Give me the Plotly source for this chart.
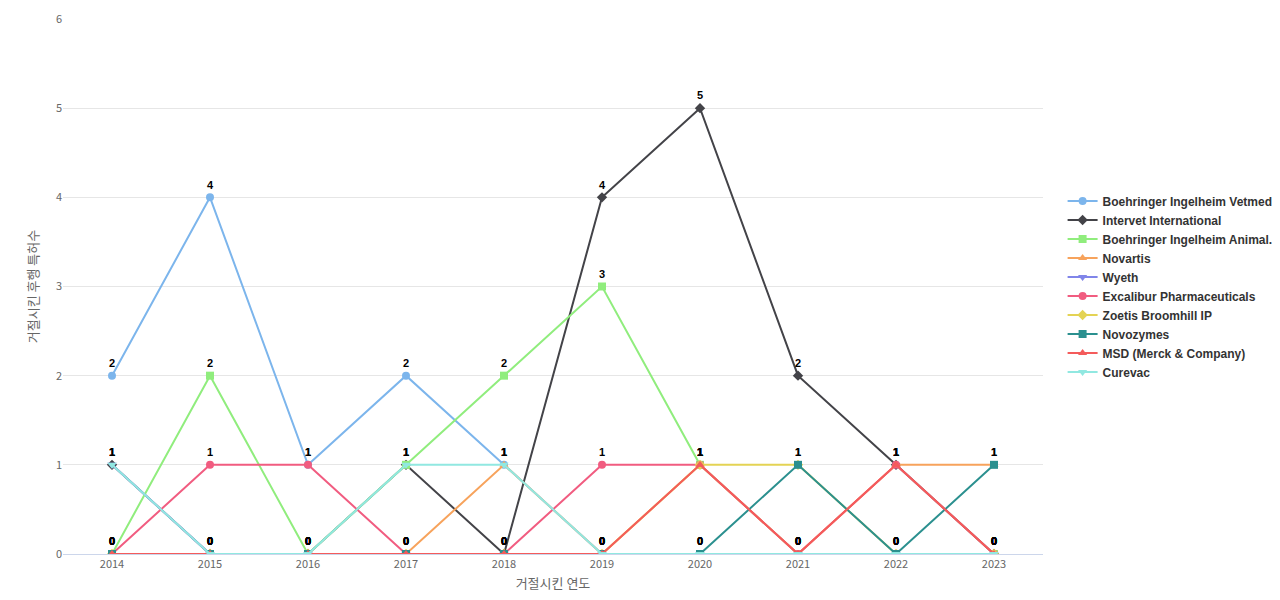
import plotly.graph_objects as go

years = [2014, 2015, 2016, 2017, 2018, 2019, 2020, 2021, 2022, 2023]
names = ["Boehringer Ingelheim Vetmedica", "Intervet International", "Boehringer Ingelheim Animal...",
         "Novartis", "Wyeth", "Excalibur Pharmaceuticals", "Zoetis Broomhill IP", "Novozymes",
         "MSD (Merck & Company)", "Curevac"]
bi_vet = [2, 4, 1, 2, 1, 0, 0, 0, 0, 0]
intervet = [1, 0, 0, 1, 0, 4, 5, 2, 1, 0]
bi_animal = [0, 2, 0, 1, 2, 3, 1, 0, 0, 0]
novartis = [0, 0, 0, 0, 1, 0, 1, 0, 1, 1]
wyeth = [1, 0, 0, 0, 0, 0, 0, 0, 0, 0]
excalibur = [0, 1, 1, 0, 0, 1, 1, 0, 1, 0]
zoetis = [0, 0, 0, 0, 0, 0, 1, 1, 0, 0]
novozymes = [0, 0, 0, 0, 0, 0, 0, 1, 0, 1]
msd = [0, 0, 0, 0, 0, 0, 1, 0, 1, 0]
curevac = [1, 0, 0, 1, 1, 0, 0, 0, 0, 0]
series = [bi_vet, intervet, bi_animal, novartis, wyeth, excalibur, zoetis, novozymes, msd, curevac]
colors = ["#7cb5ec", "#434348", "#90ed7d", "#f7a35c", "#8085e9", "#f15c80", "#e4d354", "#2b908f", "#f45b5b", "#91e8e1"]
symbols = ["circle", "diamond", "square", "triangle-up", "triangle-down", "circle", "diamond", "square", "triangle-up", "triangle-down"]

fig = go.Figure()
for n, s, c, m in zip(names, series, colors, symbols):
    fig.add_trace(go.Scatter(x=years, y=s, name=n, mode="lines+markers+text",
                             line=dict(color=c, width=2), marker=dict(color=c, symbol=m, size=8),
                             text=["<b>%d</b>" % v for v in s], textposition="top center",
                             textfont=dict(color="black", size=11, family="Liberation Sans")))
fig.update_layout(
    width=1280, height=600, plot_bgcolor="white", paper_bgcolor="white",
    margin=dict(l=55, r=245, t=11, b=54, autoexpand=False),
    font=dict(family="Noto Sans CJK KR, DejaVu Sans", color="#666", size=11),
    xaxis=dict(title=dict(text="거절시킨 연도", standoff=8), tickmode="array", tickvals=years, range=[2013.5, 2023.5],
               showgrid=False, showline=True, linecolor="#ccd6eb", zeroline=False, automargin=False),
    yaxis=dict(title=dict(text="거절시킨 후행 특허수", standoff=14), range=[0, 6], dtick=1, gridcolor="#e6e6e6",
               zeroline=False, automargin=False),
    legend=dict(x=1.02, y=0.5, yanchor="middle", font=dict(color="#333", size=12, family="Liberation Sans", weight="bold"),
                itemsizing="trace", tracegroupgap=0),
)
fig.write_html("out.html")
